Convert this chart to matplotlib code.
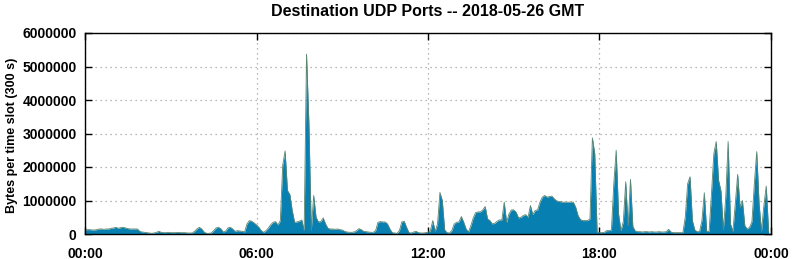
import matplotlib
matplotlib.use('Agg')
import matplotlib.pyplot as plt
import numpy as np

# bytes per 5-minute slot, in millions, one row per hour (12 slots)
hourly_rows = [
    [0.12, 0.13, 0.13, 0.12, 0.12, 0.13, 0.15, 0.15, 0.14, 0.15, 0.15, 0.17],  # 00
    [0.18, 0.20, 0.17, 0.19, 0.20, 0.18, 0.16, 0.15, 0.15, 0.15, 0.15, 0.08],  # 01
    [0.06, 0.05, 0.04, 0.03, 0.02, 0.03, 0.05, 0.08, 0.05, 0.04, 0.04, 0.05],  # 02
    [0.04, 0.04, 0.04, 0.05, 0.04, 0.04, 0.04, 0.03, 0.03, 0.03, 0.08, 0.15],  # 03
    [0.20, 0.15, 0.06, 0.02, 0.02, 0.03, 0.10, 0.18, 0.20, 0.16, 0.06, 0.08],  # 04
    [0.18, 0.20, 0.15, 0.08, 0.10, 0.09, 0.08, 0.06, 0.30, 0.40, 0.38, 0.33],  # 05
    [0.27, 0.20, 0.10, 0.05, 0.10, 0.18, 0.28, 0.35, 0.37, 0.27, 0.40, 2.05],  # 06
    [2.48, 1.30, 1.18, 0.70, 0.35, 0.36, 0.38, 0.42, 0.10, 5.37, 3.30, 0.10],  # 07
    [1.15, 0.50, 0.36, 0.37, 0.48, 0.30, 0.17, 0.15, 0.15, 0.14, 0.15, 0.13],  # 08
    [0.12, 0.08, 0.06, 0.05, 0.05, 0.06, 0.10, 0.16, 0.13, 0.08, 0.07, 0.06],  # 09
    [0.05, 0.05, 0.10, 0.35, 0.37, 0.36, 0.36, 0.30, 0.15, 0.04, 0.03, 0.02],  # 10
    [0.10, 0.36, 0.38, 0.20, 0.04, 0.03, 0.06, 0.08, 0.04, 0.03, 0.03, 0.04],  # 11
    [0.05, 0.10, 0.40, 0.08, 0.30, 1.24, 1.00, 0.12, 0.04, 0.03, 0.10, 0.30],  # 12
    [0.35, 0.36, 0.52, 0.35, 0.15, 0.06, 0.25, 0.48, 0.64, 0.66, 0.66, 0.72],  # 13
    [0.82, 0.45, 0.40, 0.30, 0.32, 0.38, 0.42, 0.42, 0.95, 0.35, 0.60, 0.72],  # 14
    [0.72, 0.65, 0.48, 0.50, 0.55, 0.58, 0.50, 0.85, 0.58, 0.70, 0.72, 0.95],  # 15
    [1.10, 1.15, 1.10, 1.12, 1.13, 1.05, 0.99, 0.97, 0.96, 0.95, 0.95, 0.95],  # 16
    [0.95, 0.95, 0.80, 0.55, 0.43, 0.40, 0.40, 0.40, 0.45, 2.87, 2.40, 0.05],  # 17
    [0.04, 0.04, 0.05, 0.10, 0.10, 0.12, 1.50, 2.50, 0.60, 0.10, 0.37, 1.56],  # 18
    [0.25, 1.63, 0.22, 0.09, 0.07, 0.07, 0.06, 0.07, 0.07, 0.06, 0.07, 0.06],  # 19
    [0.06, 0.07, 0.06, 0.06, 0.07, 0.14, 0.06, 0.04, 0.04, 0.04, 0.04, 0.04],  # 20
    [0.50, 1.50, 1.71, 0.40, 0.12, 0.07, 0.07, 0.40, 1.23, 0.08, 0.07, 1.20],  # 21
    [2.40, 2.76, 1.60, 1.28, 0.12, 1.10, 2.76, 0.30, 0.08, 0.90, 1.78, 0.80],  # 22
    [1.00, 0.25, 0.15, 0.20, 0.37, 1.50, 2.46, 0.90, 0.08, 0.85, 1.43, 0.08],  # 23
]
udp_bytes = np.array(hourly_rows).ravel() * 1e6
hours = np.arange(len(udp_bytes)) / 12.0

tick_hours = [0, 6, 12, 18, 24]
tick_labels = ['00:00', '06:00', '12:00', '18:00', '00:00']
y_ticks = [0, 1000000, 2000000, 3000000, 4000000, 5000000, 6000000]

plt.rcParams['font.family'] = ['Liberation Sans', 'DejaVu Sans']
plt.rcParams['font.weight'] = 'bold'
plt.rcParams['font.size'] = 10

fig = plt.figure(figsize=(7.92, 2.59), dpi=100)
ax = fig.add_axes([85 / 792, 1 - 234 / 259, 686 / 792, 201 / 259])

ax.fill_between(hours, 0, udp_bytes, color='#0780b1', linewidth=0, zorder=2)
ax.plot(hours, udp_bytes, color='#5a8570', linewidth=0.6, zorder=3)

ax.set_xlim(0, 24)
ax.set_ylim(0, 6000000)
ax.set_xticks(tick_hours)
ax.set_xticklabels(tick_labels)
ax.set_yticks(y_ticks)
ax.set_yticklabels([str(v) for v in y_ticks])

ax.grid(True, color='#a0a0a0', linestyle=(0, (1, 3)), linewidth=0.9, zorder=1)
ax.tick_params(direction='in', length=5, width=1, top=True, right=True, colors='black')
ax.tick_params(axis='x', pad=9)
ax.tick_params(axis='y', pad=6)
for s in ax.spines.values():
    s.set_linewidth(1)
    s.set_zorder(4)

ax.set_ylabel('Bytes per time slot (300 s)', fontweight='bold', fontsize=9)
ax.yaxis.set_label_coords((18 - 85) / 686, 0.49)
fig.text(428 / 792, 1 - 12 / 259, 'Destination UDP Ports -- 2018-05-26 GMT',
         ha='center', va='center', fontweight='bold', fontsize=11.5)

fig.savefig('out.png', dpi=100)
